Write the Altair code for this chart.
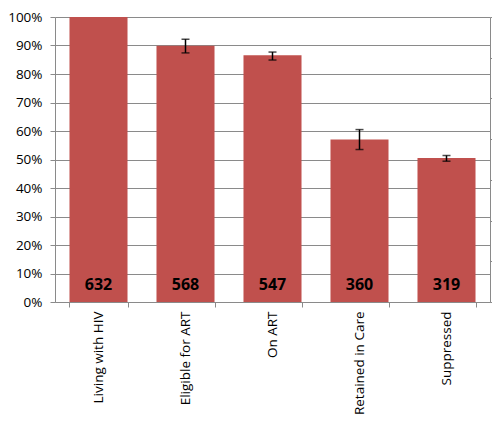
import altair as alt
import pandas as pd

categories = ["Living with HIV", "Eligible for ART", "On ART", "Retained in Care", "Suppressed"]
counts = [632, 568, 547, 360, 319]
pct = [1.000, 0.899, 0.866, 0.570, 0.505]
err_lo = [None, 0.874, 0.849, 0.535, 0.494]
err_hi = [None, 0.922, 0.877, 0.605, 0.514]
right_ticks = [0, 100, 200, 300, 400, 500, 600, 700]

df = pd.DataFrame({"cat": categories, "count": counts, "pct": pct, "lo": err_lo, "hi": err_hi})
err_df = df.dropna()

FONT = "Open Sans"
GRID = "#8a8a8a"
x_enc = alt.X("cat:N", sort=categories, title=None,
              scale=alt.Scale(paddingInner=0.333, paddingOuter=0.1665),
              axis=alt.Axis(labelAngle=-90, labelAlign="right", labelBaseline="middle",
                            labelFont=FONT, labelFontSize=13.5, labelColor="#000000",
                            labelPadding=4, tickBand="extent", tickSize=5,
                            domainColor=GRID, tickColor=GRID, labelOverlap=False))

y_scale = alt.Scale(domain=[0, 1], nice=False)
y_axis = alt.Axis(format="%", values=[i / 10 for i in range(11)], labelFont=FONT,
                  labelFontSize=13.5, labelColor="#000000", gridColor=GRID,
                  domainColor=GRID, tickColor=GRID, tickSize=5, labelPadding=8,
                  labelOverlap=False, labelFlush=False, tickCount=11)

bars = alt.Chart(df).mark_bar(color="#C0504D").encode(
    x=x_enc,
    y=alt.Y("pct:Q", scale=y_scale, title=None, axis=y_axis),
)

rules = alt.Chart(err_df).mark_rule(color="#000000", strokeWidth=1.5).encode(
    x=alt.X("cat:N", sort=categories),
    y=alt.Y("lo:Q", scale=y_scale, title=None, axis=y_axis),
    y2="hi:Q",
)
caps_lo = alt.Chart(err_df).mark_tick(color="#000000", size=8, thickness=1.5, orient="horizontal").encode(
    x=alt.X("cat:N", sort=categories),
    y=alt.Y("lo:Q", scale=y_scale, title=None, axis=y_axis),
)
caps_hi = alt.Chart(err_df).mark_tick(color="#000000", size=8, thickness=1.5, orient="horizontal").encode(
    x=alt.X("cat:N", sort=categories),
    y=alt.Y("hi:Q", scale=y_scale, title=None, axis=y_axis),
)
labels = alt.Chart(df).mark_text(font=FONT, fontSize=16, fontWeight="bold", color="#000000",
                                 baseline="alphabetic", dy=-12).encode(
    x=alt.X("cat:N", sort=categories),
    y=alt.datum(0, type="quantitative", scale=y_scale, axis=y_axis),
    text="count:Q",
)

left = alt.layer(bars, rules, caps_lo, caps_hi, labels)

right = alt.Chart(df).mark_point(opacity=0).encode(
    x=alt.X("cat:N", sort=categories),
    y=alt.Y("count:Q", scale=alt.Scale(domain=[0, 700], nice=False), title=None,
            axis=alt.Axis(orient="right", labels=False, grid=False, values=right_ticks,
                          domainColor=GRID, tickColor=GRID, tickSize=4)),
)

chart = alt.layer(left, right).resolve_scale(y="independent").properties(
    width=435, height=285,
    autosize=alt.AutoSizeParams(type="none"),
    padding={"left": 47, "top": 9, "right": 2, "bottom": 115},
).configure_view(stroke=None)

chart.save("out.html", embed_options={"renderer": "svg", "actions": False})
